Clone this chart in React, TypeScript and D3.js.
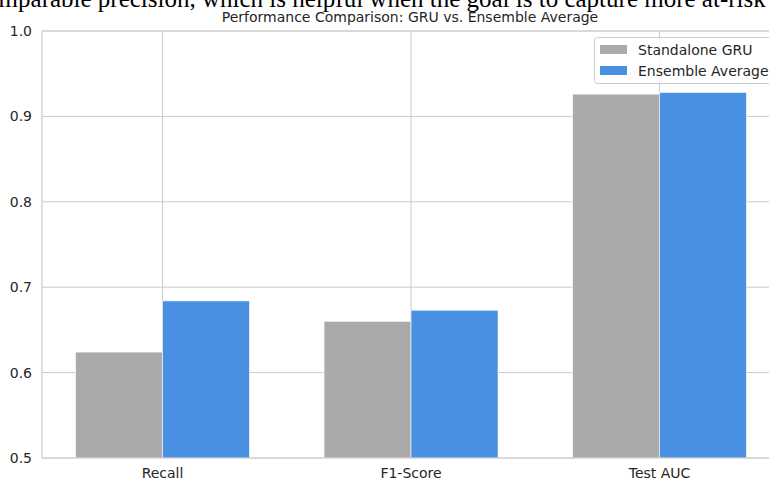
import React from "react";
import * as d3 from "d3";

const categories = ["Recall", "F1-Score", "Test AUC"];
const seriesNames = ["Standalone GRU", "Ensemble Average"];
const gruValues = [0.624, 0.660, 0.926];
const ensembleValues = [0.684, 0.673, 0.928];
const yTicks = [0.5, 0.6, 0.7, 0.8, 0.9, 1.0];
const colors = ["#aaaaaa", "#4a90e2"];

export default function App() {
  const W = 769;
  const H = 482;
  const left = 42;
  const unit = 248.5;
  const x = d3.scaleLinear().domain([-0.485, 2.485]).range([left, left + 2.97 * unit]);
  const y = d3.scaleLinear().domain([0.5, 1.0]).range([458, 31]);
  const barW = 0.35;
  const series = [gruValues, ensembleValues];
  const font = "DejaVu Sans, sans-serif";
  return (
    <svg width={W} height={H} style={{ position: "absolute", left: 0, top: 0, background: "#fff" }}>
      <text x={-25} y={6.5} fontFamily="Liberation Serif, Times New Roman, serif" fontSize={25} fill="#000">
        comparable precision, which is helpful when the goal is to capture more at-risk students.
      </text>
      <text x={410} y={22} textAnchor="middle" fontFamily={font} fontSize={14} fill="#262626">
        Performance Comparison: GRU vs. Ensemble Average
      </text>
      {/* grid */}
      {yTicks.map((t) => (
        <line key={"gy" + t} x1={x.range()[0]} x2={x.range()[1]} y1={y(t)} y2={y(t)} stroke="#cccccc" strokeWidth={1} />
      ))}
      {categories.map((c, i) => (
        <line key={"gx" + c} x1={x(i)} x2={x(i)} y1={y(0.5)} y2={y(1.0)} stroke="#cccccc" strokeWidth={1} />
      ))}
      {/* bars */}
      {series.map((vals, s) =>
        vals.map((v, i) => {
          const x0 = x(i + (s === 0 ? -barW : 0));
          const x1 = x(i + (s === 0 ? 0 : barW));
          return (
            <rect
              key={`b${s}-${i}`}
              x={x0}
              y={y(v)}
              width={x1 - x0}
              height={y(0.5) - y(v)}
              fill={colors[s]}
              stroke="#ffffff"
              strokeOpacity={0.6}
              strokeWidth={1}
            />
          );
        })
      )}
      {/* spines */}
      <line x1={x.range()[0]} x2={x.range()[0]} y1={y(0.5)} y2={y(1.0)} stroke="#cccccc" strokeWidth={1.2} />
      <line x1={x.range()[0]} x2={x.range()[1]} y1={y(0.5)} y2={y(0.5)} stroke="#cccccc" strokeWidth={1.2} />
      <line x1={x.range()[0]} x2={x.range()[1]} y1={y(1.0)} y2={y(1.0)} stroke="#cccccc" strokeWidth={1.2} />
      {/* y tick labels */}
      {yTicks.map((t) => (
        <text key={"ty" + t} x={32} y={y(t)} dy="0.35em" textAnchor="end" fontFamily={font} fontSize={14} fill="#262626">
          {t.toFixed(1)}
        </text>
      ))}
      {/* x tick labels */}
      {categories.map((c, i) => (
        <text key={"tx" + c} x={x(i)} y={478} textAnchor="middle" fontFamily={font} fontSize={14} fill="#262626">
          {c}
        </text>
      ))}
      {/* legend */}
      <rect x={594.5} y={37.5} width={200} height={46} rx={3} fill="#ffffff" fillOpacity={0.8} stroke="#cccccc" strokeWidth={1} />
      {seriesNames.map((n, k) => (
        <g key={n}>
          <rect x={600} y={45 + k * 21} width={27} height={9} fill={colors[k]} />
          <text x={638} y={54.5 + k * 21} fontFamily={font} fontSize={14} fill="#262626">
            {n}
          </text>
        </g>
      ))}
    </svg>
  );
}
